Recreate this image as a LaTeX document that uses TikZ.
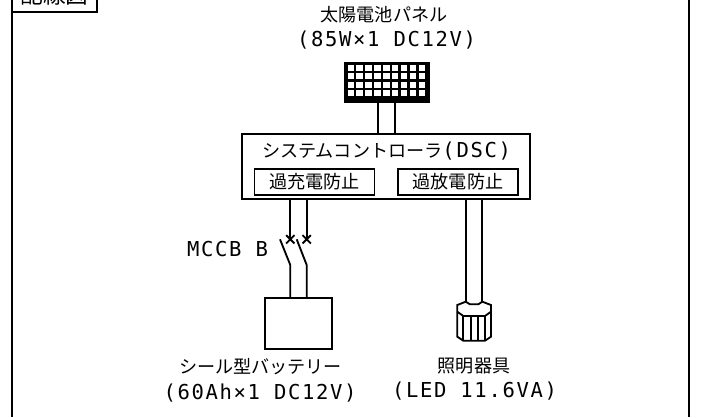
\documentclass[tikz,border=0pt]{standalone}
\usepackage{fontspec}
\usetikzlibrary{shapes.misc}
\newfontfamily\jpfont{Noto Sans CJK JP}
\newfontfamily\specfont[LetterSpace=8]{DejaVu Sans Mono}
\tikzset{
  wire/.style={line width=1.05pt},
  box/.style={draw, line width=1.05pt, inner sep=0pt},
  jplabel/.style={font=\jpfont\fontsize{10.3}{12}\selectfont, inner sep=0pt},
  speclabel/.style={font=\specfont\fontsize{11.7}{13}\selectfont, inner sep=0pt},
  breakmark/.style={cross out, draw, line width=1.05pt, minimum size=0.13cm, inner sep=0pt}
}
\begin{document}
\begin{tikzpicture}[x=0.02cm, y=-0.02cm]
  \useasboundingbox (0, 0) rectangle (701, 417);

  % frame
  \draw[line width=1.1pt] (12, 0) -- (12, 417);
  \draw[line width=1.1pt] (689, 0) -- (689, 417);
  \node[box, jplabel, draw, line width=1.1pt, minimum width=1.7cm, minimum height=0.7cm, font=\jpfont\fontsize{12.9}{14}\selectfont] (title) at (54.6, -5.5) {配線図};

  % panel
  \node[jplabel] (panelname) at (384, 15) {太陽電池パネル};
  \node[speclabel] (panelspec) at (386.5, 40) {(85W×1 DC12V)};
  \node[draw, fill=black, line width=0.5pt, minimum width=1.7cm, minimum height=0.8cm, inner sep=0pt] (panel) at (386.5, 82) {};
  \foreach \i in {0,...,8}
    \foreach \j in {0,...,3}
      \fill[white] ({347.5+8.9*\i}, {65+8.3*\j}) rectangle ++(6.4, 6);

  % controller
  \node[box, minimum width=5.76cm, minimum height=1.3cm] (dsc) at (386, 166.5) {};
  \node[jplabel] (dscname) at (386.5, 151) {システムコントローラ{\specfont\fontsize{11.7}{13}\selectfont (DSC)}};
  \node[box, jplabel, draw, line width=1.05pt, minimum width=2.4cm, minimum height=0.52cm] (charge) at (314.5, 182) {過充電防止};
  \node[box, jplabel, draw, line width=1.05pt, minimum width=2.39cm, minimum height=0.52cm] (discharge) at (458, 182) {過放電防止};
  \coordinate (p1) at (378, 102);
  \coordinate (p2) at (394.7, 102);
  \draw[wire] (p1) -- (p1 |- dsc.north);
  \draw[wire] (p2) -- (p2 |- dsc.north);

  % breaker
  \node[breakmark] (x1) at (290.3, 239.3) {};
  \node[breakmark] (x2) at (306.7, 239.3) {};
  \node[box, minimum width=1.35cm, minimum height=1.03cm] (bat) at (298.5, 323.5) {};
  \coordinate (b1) at (290.3, 265);
  \coordinate (b2) at (306.7, 265);
  \coordinate (s1) at (280, 239.3);
  \coordinate (s2) at (296.7, 239.3);
  \draw[wire] (x1 |- dsc.south) -- (x1.center);
  \draw[wire] (x2 |- dsc.south) -- (x2.center);
  \draw[wire] (s1) -- (b1) -- (b1 |- bat.north);
  \draw[wire] (s2) -- (b2) -- (b2 |- bat.north);
  \node[speclabel] (mccb) at (227.5, 249.3) {MCCB B};
  \node[jplabel] (batname) at (260.5, 367) {シール型バッテリー};
  \node[speclabel] (batspec) at (260, 393) {(60Ah×1 DC12V)};

  % lamp
  \coordinate (l1) at (465.7, 301.7);
  \coordinate (l2) at (482.3, 301.7);
  \draw[wire] (l1 |- dsc.south) -- (l1);
  \draw[wire] (l2 |- dsc.south) -- (l2);
  \draw[wire] (457.3, 305) -- (l1) -- (470, 304.3) -- (478.3, 304.3) -- (l2) -- (491, 305)
    -- (491, 336.7) -- (485, 340.7) -- (463.3, 340.7) -- (457.3, 336.7) -- cycle;
  \draw[wire] (457.3, 311.7) -- (463.3, 316) -- (485, 316) -- (491, 311.7);
  \foreach \x in {463.3, 470.7, 477.7, 485}
    \draw[wire] (\x, 316) -- (\x, 340.7);
  \node[jplabel] (lampname) at (474, 365.7) {照明器具};
  \node[speclabel] (lampspec) at (474.5, 391) {(LED 11.6VA)};
\end{tikzpicture}
\end{document}
